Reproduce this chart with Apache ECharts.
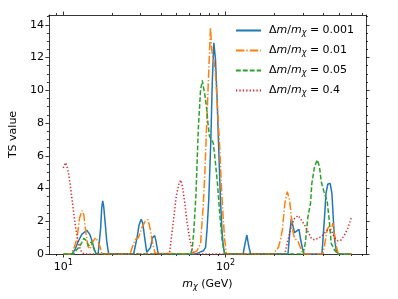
<!DOCTYPE html>
<html><head><meta charset="utf-8">
<script src="https://cdn.jsdelivr.net/npm/echarts@6/dist/echarts.min.js"></script>
<style>html,body{margin:0;padding:0;background:#fff}#c{width:398px;height:299px}</style>
</head><body><div id="c"></div>
<script>
// ---- data ----
const seriesNames = ['0.001', '0.01', '0.05', '0.4'];

const blueData = [[10,0],[11.33,0],[11.9,0.35],[12.33,0.75],[13.0,1.2],[13.95,1.45],[14.56,1.2],[14.97,0.86],[15.41,0.4],[15.85,0.05],[16.4,0],
  [17.0,1.6],[17.25,2.8],[17.5,3.25],[17.75,2.9],[18.2,1.7],[18.52,0.8],[18.9,0.2],[19.05,0],
  [27.15,0],[28.5,1.0],[29.3,1.75],[30.2,2.12],[30.9,1.9],[31.7,1.05],[32.7,0.1],[33.5,0.05],[34.5,0.4],[35.5,1.0],[36.57,1.12],[37.2,0.85],[38.16,0.2],[38.7,0],
  [65.4,0],[69.2,0.1],[73.25,0.2],[75.4,0.4],[77.0,1.5],[78.9,3.3],[81.3,7.0],[82.9,10.4],[84.8,12.9],[86.8,11.9],[88.9,9.4],[90.9,6.4],[93.16,3.3],[95.4,1.27],[97.2,0.4],[99,0],
  [128.5,0],[131.9,0.6],[135.6,1.16],[139.1,0.5],[143,0],
  [243.1,0],[248.7,1.2],[254.8,2.15],[260.9,1.7],[266.9,1.3],[273.5,1.2],[284.2,1.5],[290.7,0.9],[300.7,0.2],[306.3,0],
  [393.7,0],[408.6,2.28],[416.9,3.7],[428.4,4.28],[442.7,4.3],[453.6,3.7],[462,2.28],[470.7,0.9],[482,0.24],[494,0],[600,0]];

const orangeData = [[10,0],[11.07,0],[11.6,0.3],[12.17,1.0],[12.6,2.2],[13.05,2.65],[13.37,2.4],[13.7,1.5],[14.21,0.45],[14.6,0.3],[15.2,0.75],[15.85,1.0],[16.46,0.7],[16.9,0.4],[17.25,0.05],[17.75,0],
  [25.8,0],[26.6,0.4],[27.9,0.9],[29.1,1.0],[30.5,1.6],[32.0,2.0],[33.3,2.1],[34.4,1.5],[35.5,0.65],[36.9,0.05],[37.6,0],
  [61.8,0],[66.8,0.2],[70.3,0.65],[71.2,1.5],[73.0,3.0],[74.7,5.0],[76.4,7.6],[79.2,11.6],[80.9,13.85],[82.0,12.7],[83.2,12.1],[84.7,11.9],[86.8,11.0],[88.0,10.0],[90.2,8.2],[92.3,6.4],[94.5,4.1],[96.7,2.3],[99,0.86],[101.4,0],
  [196,0],[212,0.4],[219,0.9],[224.4,1.5],[232.5,3.1],[240.7,3.81],[248.7,3.3],[254.8,2.28],[260.9,1.36],[266.9,0.96],[280.8,0.75],[290.7,0.36],[300.7,0],
  [400,0],[412.6,0.8],[424.5,1.5],[436.5,1.7],[449.1,1.5],[460,1.9],[470.7,1.2],[482,0.5],[497,0],[600,0]];

const greenData = [[10,0],[11.6,0],[11.95,0.2],[12.46,0.4],[13.0,0.7],[13.37,0.95],[13.8,0.85],[14.35,0.5],[14.9,0.75],[15.25,0.5],[15.8,0],
  [61,0],[62.4,0.3],[63.8,1.4],[65.7,3.5],[68,7.6],[70.2,10.0],[72,10.6],[74.7,9.7],[76.4,9.0],[78,8.0],[79.7,7.2],[81.5,7.1],[84,6.8],[85.9,6.0],[89.3,4.3],[92.3,2.4],[95.4,0.86],[99,0],
  [300.7,0],[310.7,0.65],[322.7,2.28],[334.7,3.1],[341,4.3],[354.4,5.34],[368.4,5.75],[380.1,5.34],[389.8,4.42],[405,3.81],[412.6,3.9],[424.5,3.2],[438.5,1.87],[449.1,0.65],[470.7,0.24],[494,0],[600,0]];

const redData = [[10,5.25],[10.32,5.58],[10.51,5.4],[10.81,4.83],[11.07,4.1],[11.33,3.3],[11.6,2.5],[11.89,1.67],[12.33,0.75],[12.76,0.24],[13.37,0],
  [44.9,0],[45.3,0.15],[46.5,1.06],[48.1,2.28],[49.7,3.5],[51.7,4.32],[53,4.52],[54.4,4.1],[56.2,3.1],[58.1,1.87],[60.4,0.86],[62.7,0.15],[64.7,0],
  [232.5,0],[243.1,0.86],[254.8,1.67],[266.9,2.18],[280.8,2.35],[293.6,2.08],[307.8,1.77],[322.7,1.36],[338.3,0.96],[354.4,0.86],[372,0.96],[389.8,1.06],[408.6,1.27],[428.4,1.5],[438.5,1.6],[449.1,1.45],[460,1.2],[470.7,1.0],[494,0.8],[517.4,0.86],[542.4,1.16],[568.8,1.57],[596.3,2.18],[600,2.25]];

const xMajorTicks = [10, 100];
const xMinorTicks = [9, 20, 30, 40, 50, 60, 70, 80, 90, 200, 300, 400, 500, 600, 700];
const yMajorTicks = [0, 2, 4, 6, 8, 10, 12, 14];
const yMinorTicks = [0.5, 1, 1.5, 2.5, 3, 3.5, 4.5, 5, 5.5, 6.5, 7, 7.5, 8.5, 9, 9.5, 10.5, 11, 11.5, 12.5, 13, 13.5, 14.5];

// ---- chart ----
const FONT = 'DejaVu Sans';
const FS = 11;
const X_MIN = 8.15, X_MAX = 736, Y_MIN = 0, Y_MAX = 14.6;
const black = '#000';
const colors = ['#1f77b4', '#ff7f0e', '#2ca02c', '#d62728'];
const dashes = ['solid', [8.3, 2.1, 1.3, 2.1], [4.8, 2.1], [1.3, 2.1]];
const datasets = [blueData, orangeData, greenData, redData];

function xAxisDef(pos, major, showLabel) {
  const ax = {
    type: 'log', logBase: 10, gridIndex: 0, position: pos, min: X_MIN, max: X_MAX,
    axisLine: { show: major, onZero: false, lineStyle: { color: black, width: 0.8 } },
    axisTick: { show: true, inside: false, length: major ? 3.5 : 2,
      customValues: major ? xMajorTicks : xMinorTicks, lineStyle: { color: black, width: 0.8 } },
    axisLabel: { show: showLabel },
    splitLine: { show: false }, minorTick: { show: false }, minorSplitLine: { show: false }
  };
  if (showLabel) {
    ax.axisLabel = {
      show: true, customValues: xMajorTicks, margin: 5, color: black,
      fontFamily: FONT, fontSize: FS,
      formatter: v => {
        const n = Math.round(Math.log10(v));
        if (Math.abs(Math.log10(v) - n) > 1e-6) return '';
        return '{b|10}{sup|' + n + '}';
      },
      rich: {
        b: { fontFamily: FONT, fontSize: FS, color: black },
        sup: { fontFamily: FONT, fontSize: 8, color: black, padding: [0, 0, 8, 0] }
      }
    };
    ax.name = '{i|m}{s|χ}{n| (GeV)}';
    ax.nameLocation = 'middle';
    ax.nameGap = 24;
    ax.nameTextStyle = {
      rich: {
        i: { fontFamily: FONT, fontSize: FS, fontStyle: 'italic', color: black },
        s: { fontFamily: FONT, fontSize: 8, fontStyle: 'italic', color: black, padding: [5, 0, 0, 0] },
        n: { fontFamily: FONT, fontSize: FS, color: black }
      }
    };
  }
  return ax;
}
function yAxisDef(pos, major, showLabel) {
  const ax = {
    type: 'value', gridIndex: 0, position: pos, min: Y_MIN, max: Y_MAX,
    axisLine: { show: major, onZero: false, lineStyle: { color: black, width: 0.8 } },
    axisTick: { show: true, inside: false, length: major ? 3.5 : 2,
      customValues: major ? yMajorTicks : yMinorTicks, lineStyle: { color: black, width: 0.8 } },
    axisLabel: { show: showLabel },
    splitLine: { show: false }
  };
  if (showLabel) {
    ax.axisLabel = { show: true, customValues: yMajorTicks, margin: 5, color: black, fontFamily: FONT, fontSize: FS };
    ax.name = 'TS value';
    ax.nameLocation = 'middle';
    ax.nameGap = 24;
    ax.nameTextStyle = { fontFamily: FONT, fontSize: FS, color: black };
  }
  return ax;
}

const series = seriesNames.map((nm, i) => ({
  name: nm, type: 'line', xAxisIndex: 0, yAxisIndex: 0,
  data: datasets[i], symbol: 'none', smooth: false, animation: false,
  lineStyle: { color: colors[i], width: 1.5, type: dashes[i] },
  itemStyle: { color: colors[i] },
  clip: true
}));

const chart = echarts.init(document.getElementById('c'), null, { renderer: 'canvas' });
chart.setOption({
  animation: false,
  backgroundColor: '#fff',
  grid: { left: 47, right: 32, top: 15, bottom: 45, containLabel: false },
  xAxis: [xAxisDef('bottom', true, true), xAxisDef('bottom', false, false), xAxisDef('top', true, false), xAxisDef('top', false, false)],
  yAxis: [yAxisDef('left', true, true), yAxisDef('left', false, false), yAxisDef('right', true, false), yAxisDef('right', false, false)],
  legend: {
    orient: 'vertical', left: 230, top: 20, itemWidth: 25, itemHeight: 10, itemGap: 8,
    data: seriesNames,
    itemStyle: { opacity: 0, borderWidth: 0 },
    formatter: nm => '{g| }{n|Δ}{i|m}{n|/}{i|m}{s|χ}{n| = ' + nm + '}',
    textStyle: {
      rich: {
        g: { width: 3, fontSize: FS },
        n: { fontFamily: FONT, fontSize: FS, color: black },
        i: { fontFamily: FONT, fontSize: FS, fontStyle: 'italic', color: black },
        s: { fontFamily: FONT, fontSize: 8, fontStyle: 'italic', color: black, padding: [5, 0, 0, 0] }
      }
    }
  },
  series: series
});
</script></body></html>
